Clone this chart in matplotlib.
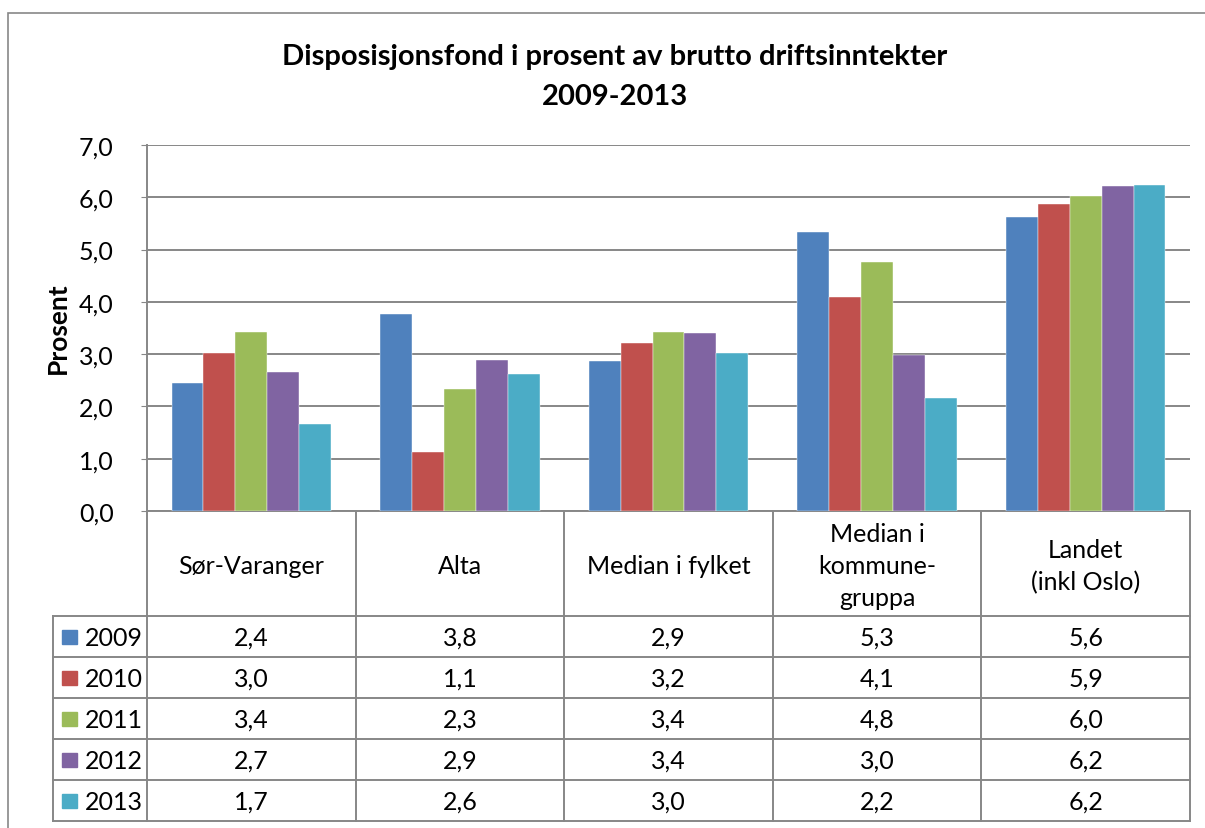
import numpy as np
import matplotlib.pyplot as plt
from matplotlib.patches import Rectangle
from matplotlib.ticker import FuncFormatter

plt.rcParams['font.family'] = ['Lato', 'DejaVu Sans']

# data
categories = ['Sør-Varanger', 'Alta', 'Median i fylket',
              'Median i\nkommune-\ngruppa', 'Landet\n(inkl Oslo)']
years = ['2009', '2010', '2011', '2012', '2013']
v2009 = [2.44, 3.77, 2.87, 5.33, 5.62]
v2010 = [3.02, 1.13, 3.21, 4.10, 5.88]
v2011 = [3.42, 2.33, 3.42, 4.76, 6.02]
v2012 = [2.66, 2.89, 3.40, 2.98, 6.21]
v2013 = [1.66, 2.62, 3.02, 2.16, 6.24]
series = [v2009, v2010, v2011, v2012, v2013]
colors = ['#4F81BD', '#C0504D', '#9BBB59', '#8064A2', '#4BACC6']
grey = '#878787'
fs = 18

W, H = 1205, 829
fig = plt.figure(figsize=(W / 100, H / 100), dpi=100)

# outer chart border (only top/left visible)
fig.add_artist(Rectangle((8 / W, -0.05), 1.1, 1 - 14 / H + 0.05,
                         transform=fig.transFigure, fill=False,
                         edgecolor=grey, lw=1.2))

fig.text(615 / W, 1 - 57 / H, 'Disposisjonsfond i prosent av brutto driftsinntekter',
         ha='center', va='center', fontsize=21, fontweight='bold')
fig.text(615 / W, 1 - 97 / H, '2009-2013',
         ha='center', va='center', fontsize=21, fontweight='bold')

# bar axes
ax = fig.add_axes([147 / W, 1 - 512 / H, (1190 - 147) / W, (512 - 146) / H])
x = np.arange(len(categories))
bw = 0.153
for j, vals in enumerate(series):
    ax.bar(x + (j - 2) * bw, vals, bw, color=colors[j], edgecolor='white',
           linewidth=0.3, zorder=3, label=years[j])
ax.set_xlim(-0.5, 4.5)
ax.set_ylim(0, 7)
ax.set_yticks(np.arange(0, 8))
ax.yaxis.set_major_formatter(FuncFormatter(lambda v, p: f'{v:.1f}'.replace('.', ',')))
ax.tick_params(axis='y', labelsize=fs, length=4, color=grey, pad=20)
ax.set_xticks([])
ax.grid(axis='y', color=grey, lw=1.4, zorder=0)
for s in ['top', 'right']:
    ax.spines[s].set_visible(False)
for s in ['left', 'bottom']:
    ax.spines[s].set_color(grey)
    ax.spines[s].set_linewidth(1.4)
ax.set_ylabel('Prosent', fontsize=19, fontweight='bold')
ax.yaxis.set_label_coords((70 - 147) / 1043, (512 - 328) / 366)

# data table
lc = (147 - 53) / ((1190 - 147) / 5)
tab = fig.add_axes([53 / W, 1 - 822 / H, (1190 - 53) / W, (822 - 512) / H])
tab.set_xlim(-0.5 - lc, 4.5)
tab.set_ylim(310, 0)
tab.axis('off')
hdr, rh = 105, 41
lk = dict(color=grey, lw=1.4, clip_on=False)
for b in np.arange(-0.5, 5.0, 1.0):
    tab.plot([b, b], [0, 310], **lk)
tab.plot([-0.5 - lc, -0.5 - lc], [hdr, 310], **lk)
for r in range(6):
    yy = hdr + r * rh
    tab.plot([-0.5 - lc, 4.5], [yy, yy], **lk)
for i, c in enumerate(categories):
    tab.text(i, hdr / 2 + 2, c, ha='center', va='center', fontsize=fs,
             linespacing=1.45)
for j, vals in enumerate(series):
    yc = hdr + j * rh + rh / 2
    kx = -0.5 - lc + 9 / 208.6
    tab.add_patch(Rectangle((kx, yc - 7), 15 / 208.6, 14, color=colors[j]))
    tab.text(kx + 23 / 208.6, yc + 1, years[j], ha='left', va='center', fontsize=fs)
    for i, v in enumerate(vals):
        tab.text(i, yc + 1, f'{v:.1f}'.replace('.', ','), ha='center',
                 va='center', fontsize=fs)

fig.savefig('out.png', dpi=100)
